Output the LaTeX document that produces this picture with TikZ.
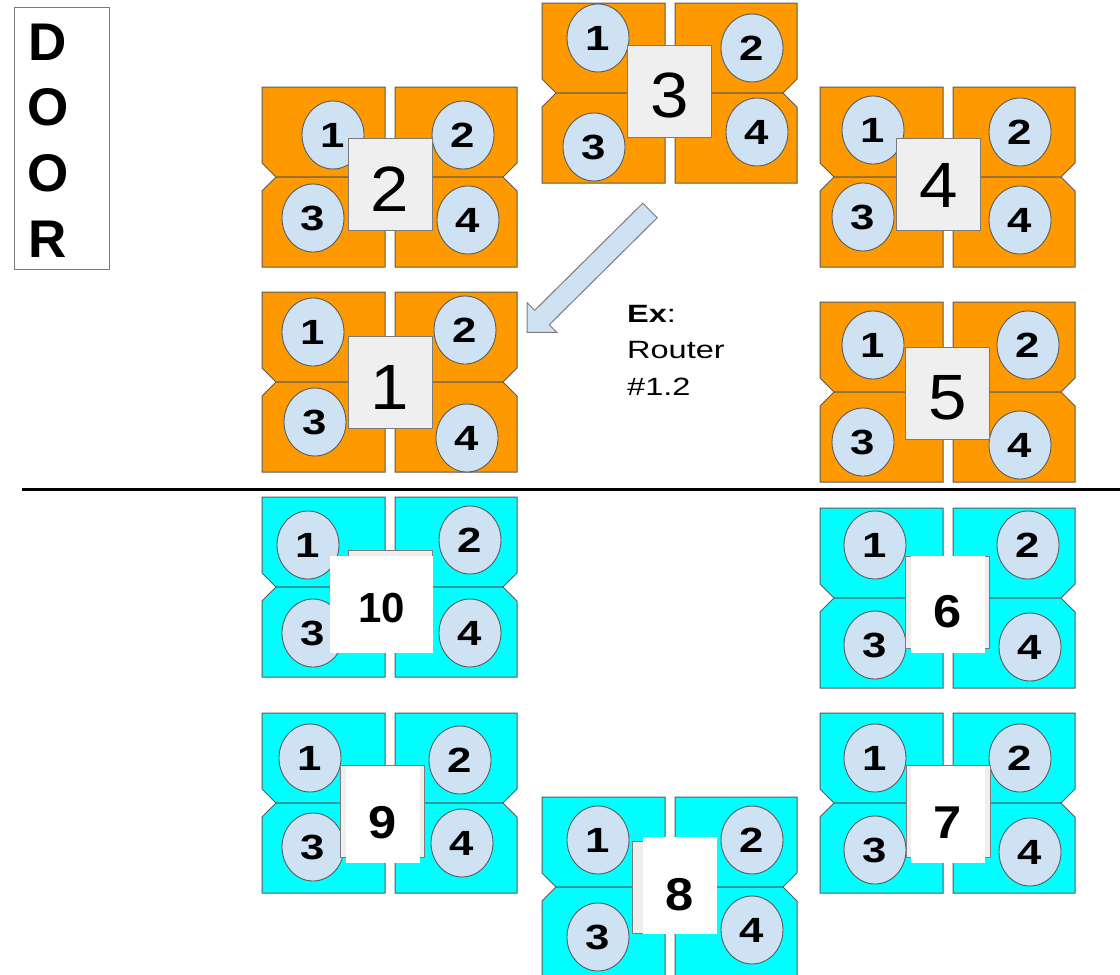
\documentclass[tikz,border=0pt]{standalone}
\usepackage{fontspec}
\setmainfont{Liberation Sans}
\usetikzlibrary{shapes.geometric}
\definecolor{rorange}{HTML}{FF9900}
\definecolor{rcyan}{HTML}{00FFFF}
\definecolor{rblue}{HTML}{CFE2F3}
\definecolor{rline}{HTML}{5A5A5A}
\definecolor{rgreysq}{HTML}{EFEFEF}
\newcommand\hstretch[2]{\scalebox{#1}[1]{#2}}
\newcommand\quads[3]{%
 \filldraw[quad,fill=#3] (#1,#2) -- ({#1+123},#2) -- ({#1+123},{#2+90}) -- ({#1+14},{#2+90}) -- (#1,{#2+76}) -- cycle;
 \filldraw[quad,fill=#3] (#1,{#2+104}) -- ({#1+14},{#2+90}) -- ({#1+123},{#2+90}) -- ({#1+123},{#2+180}) -- (#1,{#2+180}) -- cycle;
 \filldraw[quad,fill=#3] ({#1+133},#2) -- ({#1+255},#2) -- ({#1+255},{#2+76}) -- ({#1+241},{#2+90}) -- ({#1+133},{#2+90}) -- cycle;
 \filldraw[quad,fill=#3] ({#1+133},{#2+90}) -- ({#1+241},{#2+90}) -- ({#1+255},{#2+104}) -- ({#1+255},{#2+180}) -- ({#1+133},{#2+180}) -- cycle;
}
\newcommand\rtrs[5]{% cluster id, then 4 centres
 \node[rtr] (#1a) at (#2) {\hstretch{1.25}{1}};
 \node[rtr] (#1b) at (#3) {\hstretch{1.25}{2}};
 \node[rtr] (#1c) at (#4) {\hstretch{1.25}{3}};
 \node[rtr] (#1d) at (#5) {\hstretch{1.25}{4}};
}
\begin{document}
\begin{tikzpicture}[x=1pt,y=-1pt,
  quad/.style={draw=rline,line width=1pt,line join=miter},
  rtr/.style={ellipse,draw=rline,line width=0.9pt,fill=rblue,minimum width=62pt,minimum height=68pt,inner sep=0pt,font=\fontsize{35}{35}\selectfont\bfseries},
  graysq/.style={rectangle,draw=rline!80,line width=0.9pt,fill=rgreysq,minimum width=84pt,minimum height=92pt,inner sep=0pt},
  whitebox/.style={rectangle,fill=white,minimum width=74pt,minimum height=97pt,inner sep=0pt},
  bignum/.style={inner sep=0pt,font=\fontsize{64}{64}\selectfont},
  cynum/.style={inner sep=0pt,font=\fontsize{46}{46}\selectfont\bfseries},
  doorletter/.style={anchor=base west,inner sep=0pt,font=\fontsize{53}{53}\selectfont\bfseries},
  extext/.style={anchor=base west,inner sep=0pt,font=\fontsize{25}{25}\selectfont}]
\useasboundingbox (0,0) rectangle (1120,975);
% door
\node[draw=rline!80,line width=1.3pt,rectangle,minimum width=95pt,minimum height=262pt,anchor=north west,inner sep=0pt] (door) at (14,7) {};
\node[doorletter] (dD) at (28,60) {D};
\node[doorletter] (dO1) at (27,125) {O};
\node[doorletter] (dO2) at (27,191) {O};
\node[doorletter] (dR) at (28,257) {R};
% dividing line
\coordinate (lineL) at (22,489.5);
\coordinate (lineR) at (1120,489.5);
\draw[line width=3.5pt] (lineL) -- (lineR);
% orange clusters
\quads{262}{292}{rorange}
\quads{262}{87}{rorange}
\quads{542}{3}{rorange}
\quads{820}{87}{rorange}
\quads{820}{302}{rorange}
\rtrs{r1}{313,332}{465,330}{315,422}{467,438}
\rtrs{r2}{333,135}{463,135}{313,218}{468,220}
\rtrs{r3}{598,38}{752,48}{594,147}{757,132}
\rtrs{r4}{873,130}{1020,132}{863,217}{1020,220}
\rtrs{r5}{873,345}{1028,345}{863,442}{1020,445}
\node[graysq] (s1) at (390,382.5) {};
\node[graysq] (s2) at (390,184) {};
\node[graysq] (s3) at (669.5,91) {};
\node[graysq] (s4) at (938.5,184.5) {};
\node[graysq] (s5) at (947.5,393) {};
\node[bignum] (n1) at ([yshift=-5pt]s1.center) {\hstretch{1.08}{1}};
\node[bignum] (n2) at ([yshift=-5pt]s2.center) {\hstretch{1.08}{2}};
\node[bignum] (n3) at ([yshift=-4pt]s3.center) {\hstretch{1.08}{3}};
\node[bignum] (n4) at ([yshift=-1pt]s4.center) {\hstretch{1.08}{4}};
\node[bignum] (n5) at ([yshift=-5pt]s5.center) {\hstretch{1.08}{5}};
% cyan clusters
\quads{262}{497}{rcyan}
\quads{820}{508}{rcyan}
\quads{820}{713}{rcyan}
\quads{542}{797}{rcyan}
\quads{262}{713}{rcyan}
\rtrs{r6}{875,545}{1028,545}{875,645}{1030,647}
\rtrs{r7}{875,758}{1020,758}{875,850}{1030,852}
\rtrs{r8}{598,840}{752,840}{598,937}{752,930}
\rtrs{r9}{310,758}{460,760}{313,847}{462,843}
\rtrs{r10}{308,545}{470,540}{313,633}{470,633}
\node[graysq] (s6) at (947.5,602.5) {};
\node[graysq] (s7) at (948.5,811) {};
\node[graysq] (s8) at (674.5,887.5) {};
\node[graysq] (s9) at (382.5,811) {};
\node[graysq] (s10) at (390,596) {};
\node[whitebox] (w6) at (948,604) {};
\node[whitebox] (w7) at (948,814.5) {};
\node[whitebox] (w8) at (680,885.5) {};
\node[whitebox] (w9) at (383,814) {};
\node[whitebox,minimum width=103pt] (w10) at (381.5,604.5) {};
\node[cynum] (n6) at ([yshift=-8pt]w6.center) {\hstretch{1.1}{6}};
\node[cynum] (n7) at ([yshift=-8pt]w7.center) {\hstretch{1.1}{7}};
\node[cynum] (n8) at ([yshift=-9pt]w8.center) {\hstretch{1.1}{8}};
\node[cynum] (n9) at ([yshift=-9pt]w9.center) {\hstretch{1.1}{9}};
\node[cynum,font=\fontsize{42}{42}\selectfont\bfseries] (n10) at ([yshift=-4pt]w10.center) {10};
% example arrow
\filldraw[draw=rline!80,line width=1pt,fill=rblue,line join=miter]
  (657.25,217.75) -- (549.25,324.75) -- (556.85,332.35) -- (527.15,332.35)
  -- (527.15,302.65) -- (534.75,310.25) -- (642.75,203.25) -- cycle;
\node[extext] (ex1) at (627,322) {\hstretch{1.3}{\textbf{Ex}:}};
\node[extext] (ex2) at (627,358) {\hstretch{1.3}{Router}};
\node[extext] (ex3) at (627,395) {\hstretch{1.3}{\#1.2}};
\end{tikzpicture}
\end{document}
